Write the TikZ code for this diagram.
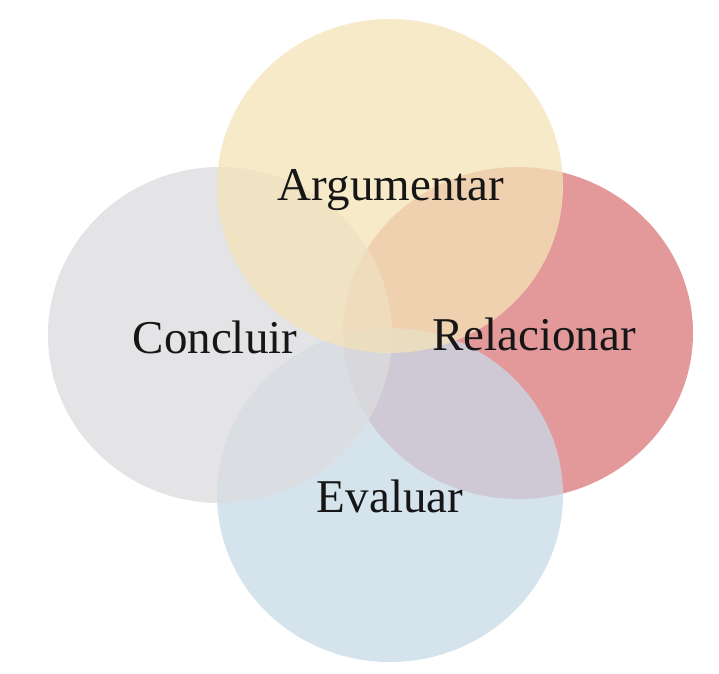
\documentclass[tikz,border=0pt]{standalone}
\usepackage{fontspec}
\setmainfont{Liberation Serif}
\definecolor{cyel}{RGB}{244,227,183}
\definecolor{cgry}{RGB}{220,220,223}
\definecolor{cred}{RGB}{218,120,120}
\definecolor{cblu}{RGB}{199,218,232}
\definecolor{ctxt}{RGB}{22,22,22}
\begin{document}
\begin{tikzpicture}[x=1pt,y=-1pt,
  blob/.style={fill opacity=0.75},
  lbl/.style={anchor=base,text=ctxt,inner sep=0pt,font=\fontsize{47}{56}\selectfont}]
\useasboundingbox[fill=white] (0,0) rectangle (719,673);
\fill[blob,cred] (518,333) ellipse [x radius=175, y radius=166];
\fill[blob,cblu] (390,495) ellipse [x radius=173, y radius=167];
\fill[blob,cgry] (220,335) ellipse [x radius=172, y radius=168];
\fill[blob,cyel] (390,186) ellipse [x radius=173, y radius=167];
\node[lbl] (arg) at (391,200) {Argumentar};
\node[lbl] (con) at (215,353) {Concluir};
\node[lbl] (rel) at (534,350) {Relacionar};
\node[lbl] (eva) at (390,512) {Evaluar};
\end{tikzpicture}
\end{document}
